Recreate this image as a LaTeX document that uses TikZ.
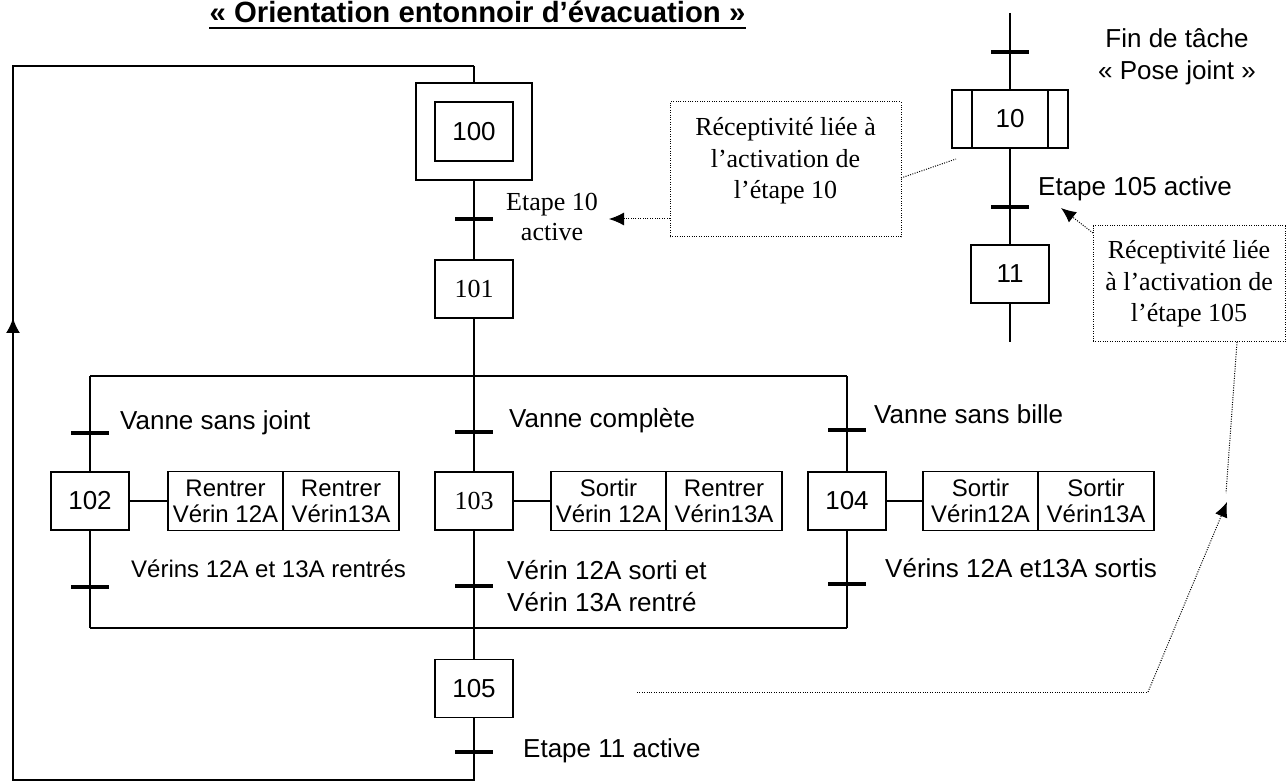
\documentclass[tikz,border=0pt]{standalone}
\usepackage{fontspec}
\setmainfont{Liberation Serif}
\setsansfont{Liberation Sans}
\usetikzlibrary{arrows.meta}
\begin{document}
\begin{tikzpicture}[x=1pt,y=-1pt,
  link/.style={line width=1.8pt},
  stepbox/.style={draw,line width=1.8pt,minimum width=78pt,minimum height=58pt,inner sep=0pt,outer sep=0pt,font=\sffamily\fontsize{26}{30}\selectfont},
  serifstep/.style={stepbox,font=\rmfamily\fontsize{26}{30}\selectfont},
  trans/.style={fill=black,minimum width=38pt,minimum height=4.5pt,inner sep=0pt},
  action/.style={draw,line width=1.8pt,minimum width=115.5pt,minimum height=59pt,inner sep=0pt,outer sep=0pt,align=center,font=\sffamily\fontsize{24}{26}\selectfont},
  lbl/.style={inner sep=0pt,font=\sffamily\fontsize{26}{32}\selectfont},
  note/.style={draw,line width=1pt,dash pattern=on 1pt off 1.4pt,inner sep=0pt,outer sep=0pt,align=center,font=\rmfamily\fontsize{26}{31.5}\selectfont},
  notetext/.style={inner sep=0pt,align=center,font=\rmfamily\fontsize{26}{31.5}\selectfont},
  dotlink/.style={line width=1pt,dash pattern=on 1pt off 1.4pt},
  tip/.style={-{Latex[length=15pt,width=13pt]}}
]
\useasboundingbox (0,0) rectangle (1287,783);

% title
\node[inner sep=0pt,anchor=base,font=\sffamily\bfseries\fontsize{29.3}{34}\selectfont] (title) at (477.5,23) {« Orientation entonnoir d’évacuation »};
\draw[line width=2pt] ([yshift=-5pt]title.base west) -- ([yshift=-5pt]title.base east);

% main grafcet
\node[stepbox,minimum width=116pt,minimum height=97pt] (s100o) at (474,131.5) {};
\node[stepbox,minimum height=59pt] (s100) at (474,131.5) {100};
\node[trans] (t100) at (474,219) {};
\node[serifstep] (s101) at (474,289) {101};

\coordinate (d102) at (90,376);
\coordinate (d103) at (474,376);
\coordinate (d104) at (847,376);

\node[trans] (t102a) at (90,433) {};
\node[stepbox] (s102) at (90,501) {102};
\node[action] (a102a) at (225.5,501) {Rentrer\\Vérin 12A};
\node[action,anchor=west] (a102b) at (a102a.east) {Rentrer\\Vérin13A};
\node[trans] (t102b) at (90,587) {};

\node[trans] (t103a) at (474,432) {};
\node[serifstep] (s103) at (474,501) {103};
\node[action] (a103a) at (608.5,501) {Sortir\\Vérin 12A};
\node[action,anchor=west] (a103b) at (a103a.east) {Rentrer\\Vérin13A};
\node[trans] (t103b) at (474,586) {};

\node[trans] (t104a) at (847,430) {};
\node[stepbox] (s104) at (847,501) {104};
\node[action] (a104a) at (980.5,501) {Sortir\\Vérin12A};
\node[action,anchor=west] (a104b) at (a104a.east) {Sortir\\Vérin13A};
\node[trans] (t104b) at (847,584) {};

\coordinate (c102) at (90,628);
\coordinate (c103) at (474,628);
\coordinate (c104) at (847,628);

\node[stepbox] (s105) at (474,688.5) {105};
\node[trans] (t105) at (474,752) {};

\coordinate (bot) at (474,780);
\coordinate (botL) at (13,780);
\coordinate (arr) at (13,318);
\coordinate (topL) at (13,66);
\coordinate (top) at (474,66);

\draw[link] (top) -- (s100o.north);
\draw[link] (s100o.south) -- (s101.north);
\draw[link] (s101.south) -- (s103.north);
\draw[link] (d102) -- (d104);
\draw[link] (d102) -- (s102.north);
\draw[link] (d104) -- (s104.north);
\draw[link] (s102.south) -- (c102);
\draw[link] (s103.south) -- (s105.north);
\draw[link] (s104.south) -- (c104);
\draw[link] (c102) -- (c104);
\draw[link] (s105.south) -- (bot) -- (botL) -- (topL) -- (top);
\draw[link,-{Latex[length=15pt,width=14pt]}] (botL) -- (arr);
\draw[link] (s102.east) -- (a102a.west);
\draw[link] (s103.east) -- (a103a.west);
\draw[link] (s104.east) -- (a104a.west);

% second grafcet
\coordinate (e10top) at (1010,13);
\node[trans] (t10a) at (1010,52) {};
\node[stepbox,minimum width=116pt] (s10) at (1010,119) {10};
\draw[link] ([xshift=20pt]s10.north west) -- ([xshift=20pt]s10.south west);
\draw[link] ([xshift=-20pt]s10.north east) -- ([xshift=-20pt]s10.south east);
\node[trans] (t10b) at (1010,207) {};
\node[stepbox] (s11) at (1010,274) {11};
\coordinate (e11bot) at (1010,342);
\draw[link] (e10top) -- (s10.north);
\draw[link] (s10.south) -- (s11.north);
\draw[link] (s11.south) -- (e11bot);

% labels
\node[lbl,anchor=base west] (l102a) at (120,429) {Vanne sans joint};
\node[lbl,anchor=base west,font=\sffamily\fontsize{24}{28}\selectfont] (l102b) at (131,577.5) {Vérins 12A et 13A rentrés};
\node[lbl,anchor=base west] (l103a) at (509,427) {Vanne complète};
\node[lbl,anchor=west,align=left] (l103b) at (507,586) {Vérin 12A sorti et\\Vérin 13A rentré};
\node[lbl,anchor=base west] (l104a) at (874,423) {Vanne sans bille};
\node[lbl,anchor=base west] (l104b) at (885,577) {Vérins 12A et13A sortis};
\node[lbl,anchor=base west] (l105) at (523,757) {Etape 11 active};
\node[lbl,anchor=base west] (l10b) at (1038,196) {Etape 105 active};
\node[lbl,align=center] (fin) at (1177,57) {Fin de tâche\\« Pose joint »};
\node[inner sep=0pt,align=center,font=\rmfamily\fontsize{26}{30}\selectfont] (e10) at (552,217) {Etape 10\\active};

% notes
\node[note,minimum width=231pt,minimum height=135pt] (n1) at (785.5,169.5) {};
\node[notetext] (n1t) at (785.5,161) {Réceptivité liée à\\l’activation de\\l’étape 10};
\node[note,minimum width=192pt,minimum height=116pt] (n2) at (1189,284) {Réceptivité liée\\à l’activation de\\l’étape 105};

\coordinate (q1) at (609,219);
\coordinate (q2) at (956,159);
\coordinate (q3) at (1061,208);
\coordinate (q4) at (1226,493);
\coordinate (q5) at (637,692);
\coordinate (q6) at (1148,692);
\coordinate (q7) at (1227,502);

\draw[dotlink,tip] (n1.west |- q1) -- (q1);
\draw[dotlink] (n1.east |- 0,178) -- (q2);
\draw[dotlink,tip] (n2.west |- 0,233) -- (q3);
\draw[dotlink] ([xshift=48pt]n2.south) -- (q4);
\draw[dotlink] (q5) -- (q6);
\draw[dotlink,tip] (q6) -- (q7);
\end{tikzpicture}
\end{document}
